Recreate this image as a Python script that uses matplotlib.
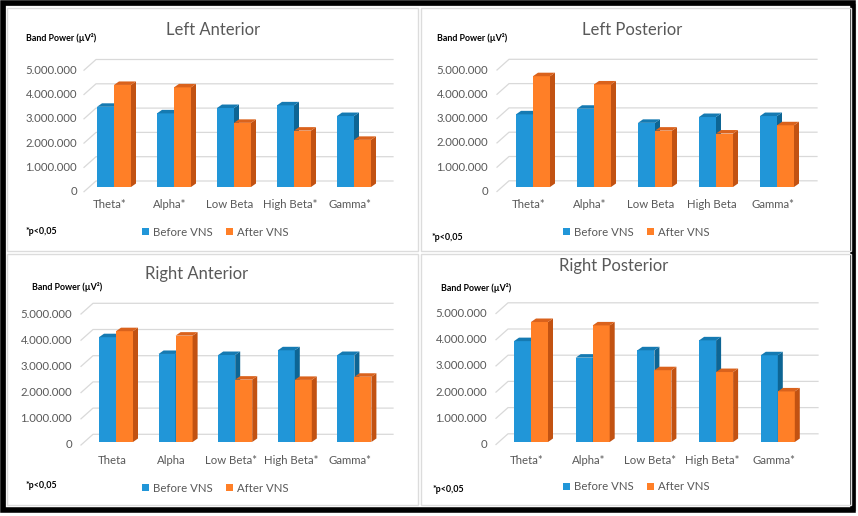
import matplotlib
matplotlib.use("Agg")
import matplotlib.pyplot as plt
from matplotlib.patches import Polygon, Rectangle
import numpy as np

plt.rcParams['font.family'] = ['Lato', 'DejaVu Sans']

# ---------------- data ----------------
bands = ["Theta", "Alpha", "Low Beta", "High Beta", "Gamma"]
series_names = ["Before VNS", "After VNS"]
yticks = [0, 1000000, 2000000, 3000000, 4000000, 5000000]
ytick_labels = ["0", "1.000.000", "2.000.000", "3.000.000", "4.000.000", "5.000.000"]

titles = ["Left Anterior", "Left Posterior", "Right Anterior", "Right Posterior"]
cat_labels_la = ["Theta*", "Alpha*", "Low Beta", "High Beta*", "Gamma*"]
cat_labels_lp = ["Theta*", "Alpha*", "Low Beta", "High Beta", "Gamma*"]
cat_labels_ra = ["Theta", "Alpha", "Low Beta*", "High Beta*", "Gamma*"]
cat_labels_rp = ["Theta*", "Alpha*", "Low Beta*", "High Beta*", "Gamma*"]

before_la = [3300000, 3030000, 3250000, 3360000, 2920000]
after_la = [4200000, 4100000, 2640000, 2320000, 1940000]
before_lp = [2990000, 3220000, 2640000, 2880000, 2920000]
after_lp = [4560000, 4220000, 2320000, 2200000, 2540000]
before_ra = [4000000, 3360000, 3320000, 3500000, 3320000]
after_ra = [4230000, 4060000, 2380000, 2370000, 2490000]
before_rp = [3850000, 3220000, 3500000, 3880000, 3310000]
after_rp = [4580000, 4450000, 2740000, 2670000, 1930000]

footnote = "*p<0,05"
ylabel_text = "Band Power (\u00b5V\u00b2)"

# ---------------- style ----------------
W, H = 858, 516
BLUE = ("#2196D8", "#157AB2", "#0D6594")   # front, top, side
ORANGE = ("#FF7F27", "#DA621C", "#C25212")
GRID = "#D9D9D9"
TXT = "#595959"

fig = plt.figure(figsize=(W / 100, H / 100), dpi=100)
fig.patch.set_facecolor("white")

bg = fig.add_axes([0, 0, 1, 1])
bg.set_xlim(0, W)
bg.set_ylim(H, 0)
bg.axis("off")
bg.set_zorder(0)

# outer frame + panel frames
bg.add_patch(Rectangle((5, 5), 850, 505, fill=False, ec="#A0A0A0", lw=1.5))
bg.add_patch(Rectangle((3, 3), 850, 506.5, fill=False, ec="black", lw=4.0))
for (x, y, w, h) in [(7, 8, 411, 243), (421, 8, 430, 243), (7, 254, 411, 251), (421, 254, 430, 251)]:
    bg.add_patch(Rectangle((x, y), w, h, fill=False, ec="#DCDCDC", lw=1.0))

panels = [
    dict(frame=(7, 8, 418, 251), x0=114, step=60.0, y0=187, ppm=24.3, foff=4.7,
         lab_r=77, grid_l=84, grid_r=393, cat_y=205, title=(213, 30),
         bp=(26, 38), leg=(215, 232), p=(26, 232),
         title_text=titles[0], cats=cat_labels_la, before=before_la, after=after_la),
    dict(frame=(421, 8, 851, 251), x0=533, step=61.0, y0=187, ppm=24.3, foff=4.5,
         lab_r=488, grid_l=497, grid_r=817, cat_y=205, title=(632, 30),
         bp=(437, 38), leg=(636, 232), p=(432, 237),
         title_text=titles[1], cats=cat_labels_lp, before=before_lp, after=after_lp),
    dict(frame=(7, 254, 418, 505), x0=116, step=59.6, y0=442, ppm=26.2, foff=3.0,
         lab_r=72, grid_l=81, grid_r=393, cat_y=460, title=(197, 274),
         bp=(32, 287), leg=(215, 488), p=(26, 486),
         title_text=titles[2], cats=cat_labels_ra, before=before_ra, after=after_ra),
    dict(frame=(421, 254, 851, 505), x0=531, step=61.7, y0=442, ppm=26.2, foff=2.5,
         lab_r=487, grid_l=496, grid_r=818, cat_y=460, title=(614, 266),
         bp=(441, 288), leg=(636, 487), p=(433, 489),
         title_text=titles[3], cats=cat_labels_rp, before=before_rp, after=after_rp),
]

BAR_W = 17.0
DEPTH_X, DEPTH_Y = 5.0, 3.5
GRID_DX, GRID_DY = 12.0, 10.7

for P in panels:
    fl, ft, fr, fb = P["frame"]
    ax = fig.add_axes([fl / W, 1 - fb / H, (fr - fl) / W, (fb - ft) / H])
    ax.set_zorder(1)
    ax.patch.set_alpha(0)
    ax.axis("off")
    x0, step, y0, ppm = P["x0"], P["step"], P["y0"], P["ppm"]
    X = lambda px: (px - x0) / step
    Y = lambda py: (y0 - py) / ppm * 1e6
    DX = lambda px: px / step
    DY = lambda py: py / ppm * 1e6
    ax.set_xlim(X(fl), X(fr))
    ax.set_ylim(Y(fb), Y(ft))

    idx = np.arange(len(bands))
    w = DX(BAR_W)
    ddx, ddy = DX(DEPTH_X), DY(DEPTH_Y)

    # gridlines (back wall + left floor diagonal)
    for v in yticks:
        yf = v - DY(P["foff"])
        yb = yf + DY(GRID_DY)
        xs = [X(P["grid_l"]), X(P["grid_l"] + GRID_DX), X(P["grid_r"])]
        ax.plot(xs, [yf, yb, yb], color=GRID, lw=0.9, zorder=1, clip_on=False)
    for v, lab in zip(yticks, ytick_labels):
        ax.text(X(P["lab_r"]), v - DY(P["foff"]), lab, ha="right", va="center",
                fontsize=8.2, color=TXT, clip_on=False)

    # 3D-looking columns
    series = [(P["before"], -w / 2, BLUE, 2), (P["after"], w / 2, ORANGE, 3)]
    handles = []
    for vals, off, cols, z in series:
        bc = ax.bar(idx + off, vals, width=w, color=cols[0], lw=0, zorder=z)
        handles.append(bc)
        for xi, h in zip(idx + off, vals):
            xr = xi + w / 2
            xl = xi - w / 2
            ax.add_patch(Polygon([(xr, 0), (xr, h), (xr + ddx, h + ddy), (xr + ddx, ddy)],
                                 closed=True, fc=cols[2], lw=0, zorder=z + 0.5))
            ax.add_patch(Polygon([(xl, h), (xr, h), (xr + ddx, h + ddy), (xl + ddx, h + ddy)],
                                 closed=True, fc=cols[1], lw=0, zorder=z + 0.5))

    # category labels
    for i, lab in enumerate(P["cats"]):
        ax.text(i + DX(-4), Y(P["cat_y"]), lab, ha="center", va="center",
                fontsize=8.2, color=TXT, clip_on=False)

    # title, y-label, footnote
    bg.text(P["title"][0], P["title"][1], P["title_text"], ha="center", va="center",
            fontsize=12, color=TXT)
    bg.text(P["bp"][0], P["bp"][1], ylabel_text, ha="left", va="center",
            fontsize=6.4, fontweight="bold", color="black")
    bg.text(P["p"][0], P["p"][1], footnote, ha="left", va="center",
            fontsize=6.4, fontweight="bold", color="black")

    ax.legend(handles, series_names, loc="center",
              bbox_to_anchor=(P["leg"][0] / W, 1 - P["leg"][1] / H),
              bbox_transform=fig.transFigure, ncol=2, frameon=False,
              fontsize=8.2, labelcolor=TXT, handlelength=0.65, handleheight=0.65,
              handletextpad=0.3, columnspacing=1.2, borderpad=0, borderaxespad=0)

fig.savefig("out.png", dpi=100, facecolor="white")
